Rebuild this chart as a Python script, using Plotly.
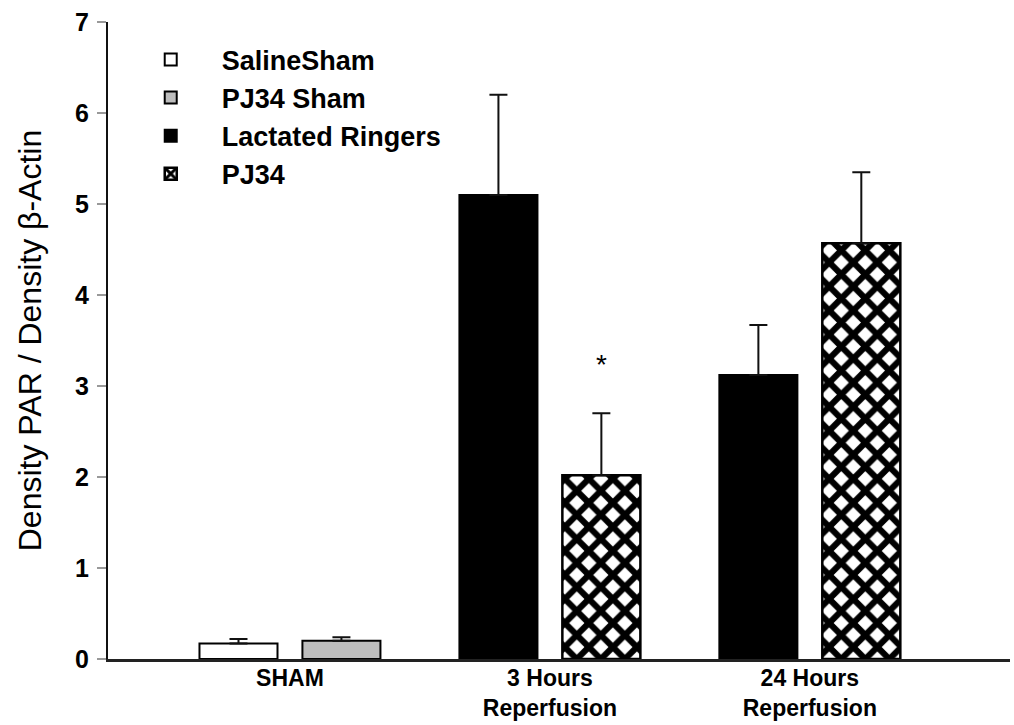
import plotly.graph_objects as go

categories = ["SHAM", "3 Hours<br>Reperfusion", "24 Hours<br>Reperfusion"]

saline_sham = [0.17]
saline_sham_err = [0.05]
pj34_sham = [0.20]
pj34_sham_err = [0.04]
lactated = [5.10, 3.12]
lactated_err = [1.10, 0.55]
pj34 = [2.02, 4.57]
pj34_err = [0.68, 0.78]

star_label = "*"

FONT = "Liberation Sans, Arial, sans-serif"
BARGAP = 0.208
GROUPGAP = 0.242

def err(vals):
    return dict(type="data", array=vals, arrayminus=[0] * len(vals), symmetric=False,
                color="#111", thickness=2, width=9)

fig = go.Figure()
fig.add_trace(go.Bar(
    name="SalineSham", x=categories[:1], y=saline_sham, offsetgroup="a",
    legendgroup="g1",
    marker=dict(color="white", line=dict(color="black", width=2)),
    error_y=err(saline_sham_err)))
fig.add_trace(go.Bar(
    name="PJ34 Sham", x=categories[:1], y=pj34_sham, offsetgroup="b",
    legendgroup="g2",
    marker=dict(color="#bdbdbd", line=dict(color="black", width=2)),
    error_y=err(pj34_sham_err)))
fig.add_trace(go.Bar(
    name="Lactated Ringers", x=categories[1:], y=lactated, offsetgroup="a",
    legendgroup="g3",
    marker=dict(color="black", line=dict(color="black", width=2)),
    error_y=err(lactated_err)))
fig.add_trace(go.Bar(
    name="PJ34", x=categories[1:], y=pj34, offsetgroup="b",
    legendgroup="g4",
    marker=dict(color="white", line=dict(color="black", width=2.5),
                pattern=dict(shape="x", fgcolor="black", bgcolor="white",
                             fgopacity=1, size=17, solidity=0.6,
                             fillmode="overlay")),
    error_y=err(pj34_err)))

# significance star above the 3h PJ34 error bar
slot = (1 - BARGAP) / 2
fig.add_annotation(
    x=1 + slot / 2, y=pj34[0] + pj34_err[0], xref="x", yref="y",
    text=star_label, showarrow=False, yshift=49,
    font=dict(family=FONT, size=28, color="black"))

fig.update_layout(
    width=1014, height=725,
    margin=dict(l=108, r=4, t=22, b=66),
    paper_bgcolor="white", plot_bgcolor="white",
    barmode="group", bargap=BARGAP, bargroupgap=GROUPGAP,
    showlegend=True,
    legend=dict(x=0.013, y=0.979, xanchor="left", yanchor="top",
                font=dict(family=FONT, size=27, color="black", weight="bold"),
                tracegroupgap=0, itemwidth=92, bgcolor="rgba(0,0,0,0)",
                traceorder="normal"),
    font=dict(family=FONT, color="black"),
)
fig.update_xaxes(
    type="category", range=[-0.70, 2.77], automargin=False,
    showline=True, linecolor="#222", linewidth=3, ticks="",
    ticklabelstandoff=-4,
    showgrid=False, zeroline=False,
    tickfont=dict(family=FONT, size=23, color="black", weight="bold"),
)
fig.update_yaxes(
    range=[0, 7], tickvals=[0, 1, 2, 3, 4, 5, 6, 7], automargin=False,
    showline=True, linecolor="#111", linewidth=2, ticks="outside",
    ticklen=9, tickwidth=2, tickcolor="#999", ticklabelstandoff=3,
    showgrid=False, zeroline=False,
    tickfont=dict(family=FONT, size=25, color="black", weight="bold"),
    title=dict(text="Density PAR / Density β-Actin",
               font=dict(family=FONT, size=32, color="black"), standoff=24),
)

fig.write_html("out.html")
